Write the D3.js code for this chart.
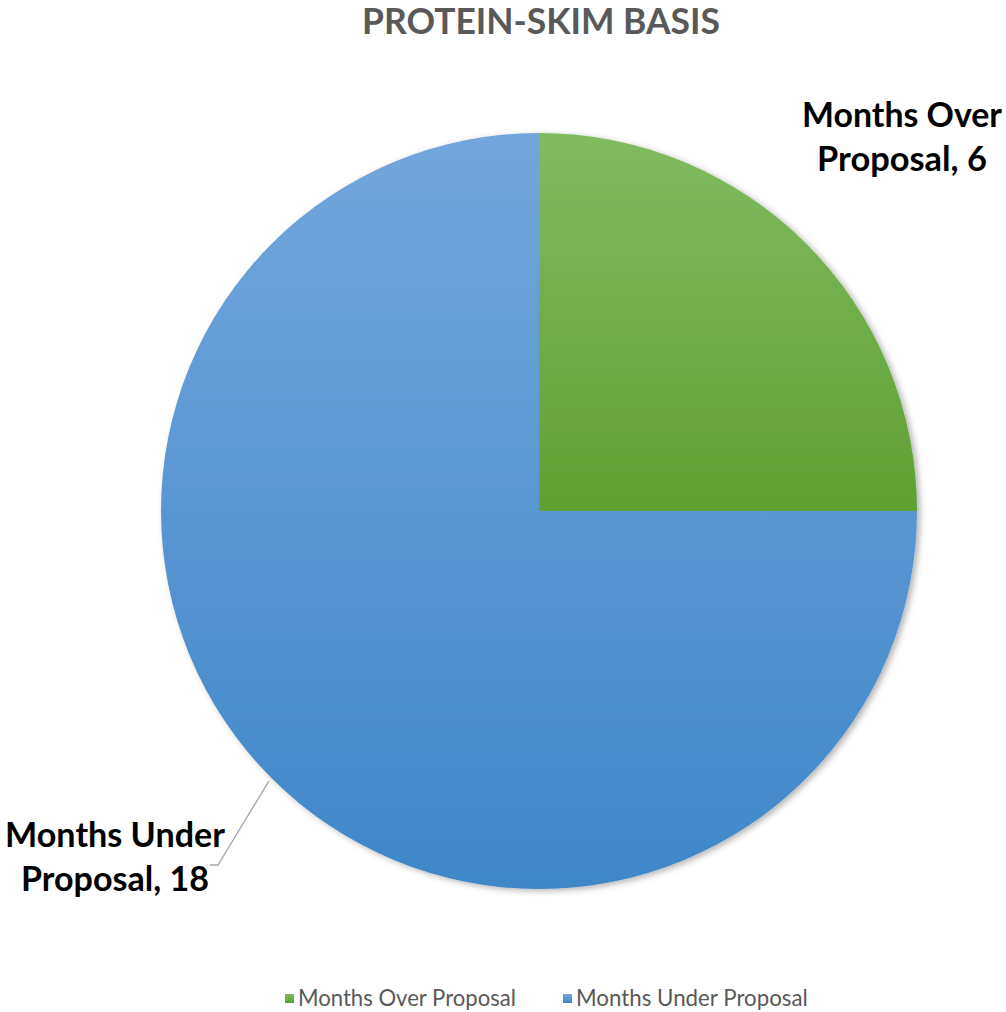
<!DOCTYPE html>
<html><head><meta charset="utf-8">
<script src="https://cdn.jsdelivr.net/npm/d3@7"></script>
<style>body{margin:0;background:#fff}svg{display:block}</style>
</head><body>
<svg id="c" width="1006" height="1012"></svg>
<script>
const categories = ["Months Over Proposal", "Months Under Proposal"];
const values = [6, 18];
const title = "PROTEIN-SKIM BASIS";
const gradTop = ["#80bb61", "#72a6dc"];
const gradBottom = ["#5fa032", "#4087c8"];

const svg = d3.select("#c");
const cx = 539, cy = 511, R = 378;
const FONT = "Lato, 'Open Sans', sans-serif";

function fit(sel, target) {
  const w = sel.node().getComputedTextLength();
  const fs = parseFloat(sel.attr("font-size"));
  sel.attr("font-size", fs * target / w);
}

const defs = svg.append("defs");
const f = defs.append("filter").attr("id", "sh").attr("x", "-10%").attr("y", "-10%").attr("width", "120%").attr("height", "120%");
f.append("feDropShadow").attr("dx", 3).attr("dy", 2).attr("stdDeviation", 3).attr("flood-color", "#000").attr("flood-opacity", 0.3);
categories.forEach((c, i) => {
  const g = defs.append("linearGradient").attr("id", "g" + i).attr("x1", 0).attr("y1", 0).attr("x2", 0).attr("y2", 1);
  g.append("stop").attr("offset", "0%").attr("stop-color", gradTop[i]);
  g.append("stop").attr("offset", "100%").attr("stop-color", gradBottom[i]);
});

// title
const t = svg.append("text").attr("x", 541).attr("y", 34).attr("text-anchor", "middle")
  .attr("font-family", FONT).attr("font-weight", "bold").attr("font-size", 30).attr("fill", "#595959").text(title);
fit(t, 358);

const pie = d3.pie().sort(null).value(d => d)(values);
const arc = d3.arc().innerRadius(0).outerRadius(R);
const g = svg.append("g").attr("transform", `translate(${cx},${cy})`);
g.append("g").attr("filter", "url(#sh)").selectAll("path").data(pie).join("path")
  .attr("d", arc).attr("fill", (d, i) => `url(#g${i})`);

// labels
const labelLines = categories.map((c, i) => {
  const parts = c.split(" ");
  return [parts[0] + " " + parts[1], parts.slice(2).join(" ") + ", " + values[i]];
});
const labelPos = [
  {x: 902, y: [127, 171], w: [200, 170]},
  {x: 115, y: [847, 891], w: [220, 188]}
];
labelLines.forEach((lines, i) => {
  lines.forEach((s, j) => {
    const tt = svg.append("text").attr("x", labelPos[i].x).attr("y", labelPos[i].y[j])
      .attr("text-anchor", "middle").attr("font-family", FONT).attr("font-weight", "bold")
      .attr("font-size", 30).attr("fill", "#000").text(s);
    fit(tt, labelPos[i].w[j]);
  });
});

// leader line for blue slice
const mid = (pie[1].startAngle + pie[1].endAngle) / 2;
const sx = cx + Math.sin(mid) * (R + 4), sy = cy - Math.cos(mid) * (R + 4);
svg.append("path").attr("d", `M${sx},${sy} L218,865 L210,865`).attr("fill", "none")
  .attr("stroke", "#a6a6a6").attr("stroke-width", 1.3);

// legend
const leg = [{sx: 285, tx: 298, w: 218}, {sx: 563, tx: 576, w: 232}];
categories.forEach((c, i) => {
  svg.append("rect").attr("x", leg[i].sx).attr("y", 994).attr("width", 9).attr("height", 9)
    .attr("fill", `url(#g${i})`);
  const lt = svg.append("text").attr("x", leg[i].tx).attr("y", 1006).attr("font-family", FONT)
    .attr("font-size", 20).attr("fill", "#595959").text(c);
  fit(lt, leg[i].w);
});
</script>
</body></html>
